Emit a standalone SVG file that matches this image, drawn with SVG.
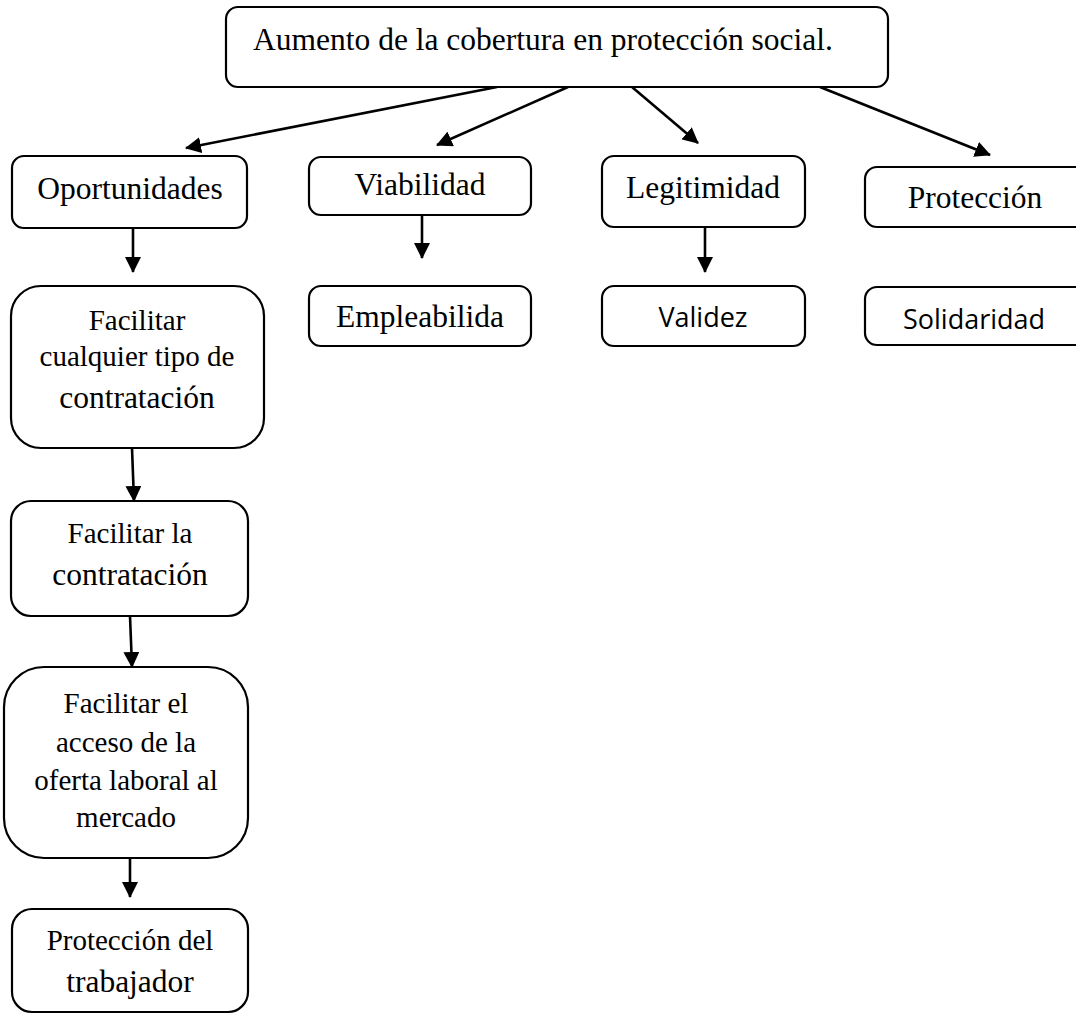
<svg xmlns="http://www.w3.org/2000/svg" width="1076" height="1014" viewBox="0 0 1076 1014">
<defs>
<style>
.box{fill:#fff;stroke:#000;stroke-width:2.2}
.t{font-family:"Liberation Serif","Times New Roman",serif;font-size:31.5px;fill:#000;text-anchor:middle}
.s{font-size:29px}
.c{font-family:"Open Sans","Liberation Sans",sans-serif;font-size:27px;fill:#000;text-anchor:middle}
.ln{stroke:#000;stroke-width:2.6;fill:none;marker-end:url(#ah)}
</style>
<marker id="ah" markerUnits="userSpaceOnUse" markerWidth="16" markerHeight="16" refX="15" refY="8" orient="auto" viewBox="0 0 16 16">
<path d="M0,0 L16,8 L0,16 z" fill="#000"/>
</marker>
</defs>
<rect width="1076" height="1014" fill="#fff"/>
<g id="connectors">
<line class="ln" x1="497" y1="87" x2="186" y2="148"/>
<line class="ln" x1="568" y1="87" x2="437" y2="145"/>
<line class="ln" x1="632" y1="87" x2="698" y2="143"/>
<line class="ln" x1="820" y1="87" x2="990" y2="155"/>
<line class="ln" x1="133" y1="228" x2="133" y2="272"/>
<line class="ln" x1="422" y1="215" x2="422" y2="258"/>
<line class="ln" x1="705" y1="227" x2="705" y2="272"/>
<line class="ln" x1="132" y1="448" x2="134" y2="501"/>
<line class="ln" x1="130" y1="616" x2="132" y2="667"/>
<line class="ln" x1="130" y1="858" x2="130" y2="897"/>
</g>
<g id="n-top">
<rect class="box" x="226" y="7" width="662" height="80" rx="12"/>
<text class="t" x="543" y="50">Aumento de la cobertura en protección social.</text>
</g>
<g id="n-oportunidades">
<rect class="box" x="12" y="156" width="235" height="72" rx="12"/>
<text class="t" x="130" y="199">Oportunidades</text>
</g>
<g id="n-viabilidad">
<rect class="box" x="309" y="157" width="222" height="58" rx="12"/>
<text class="t" x="420" y="195">Viabilidad</text>
</g>
<g id="n-legitimidad">
<rect class="box" x="602" y="156" width="203" height="71" rx="12"/>
<text class="t" x="703" y="198">Legitimidad</text>
</g>
<g id="n-proteccion">
<rect class="box" x="865" y="167" width="225" height="60" rx="12"/>
<text class="t" x="975" y="208">Protección</text>
</g>
<g id="n-empleabilida">
<rect class="box" x="309" y="286" width="222" height="60" rx="12"/>
<text class="t" x="420" y="327">Empleabilida</text>
</g>
<g id="n-validez">
<rect class="box" x="602" y="286" width="203" height="60" rx="12"/>
<text class="c" x="703" y="327">Validez</text>
</g>
<g id="n-solidaridad">
<rect class="box" x="865" y="287" width="225" height="58" rx="12"/>
<text class="c" x="974" y="329">Solidaridad</text>
</g>
<g id="n-facilitar-cualquier">
<rect class="box" x="11" y="286" width="253" height="162" rx="30"/>
<text class="t s" x="137" y="330">Facilitar</text>
<text class="t s" x="137" y="366">cualquier tipo de</text>
<text class="t" x="137" y="408">contratación</text>
</g>
<g id="n-facilitar-la">
<rect class="box" x="11" y="501" width="237" height="115" rx="20"/>
<text class="t s" x="130" y="543">Facilitar la</text>
<text class="t" x="130" y="585">contratación</text>
</g>
<g id="n-facilitar-acceso">
<rect class="box" x="4" y="667" width="244" height="191" rx="40"/>
<text class="t s" x="126" y="713">Facilitar el</text>
<text class="t s" x="126" y="752">acceso de la</text>
<text class="t s" x="126" y="790">oferta laboral al</text>
<text class="t s" x="126" y="827">mercado</text>
</g>
<g id="n-proteccion-trabajador">
<rect class="box" x="12" y="909" width="236" height="103" rx="20"/>
<text class="t s" x="130" y="950">Protección del</text>
<text class="t" x="130" y="992">trabajador</text>
</g>
</svg>
